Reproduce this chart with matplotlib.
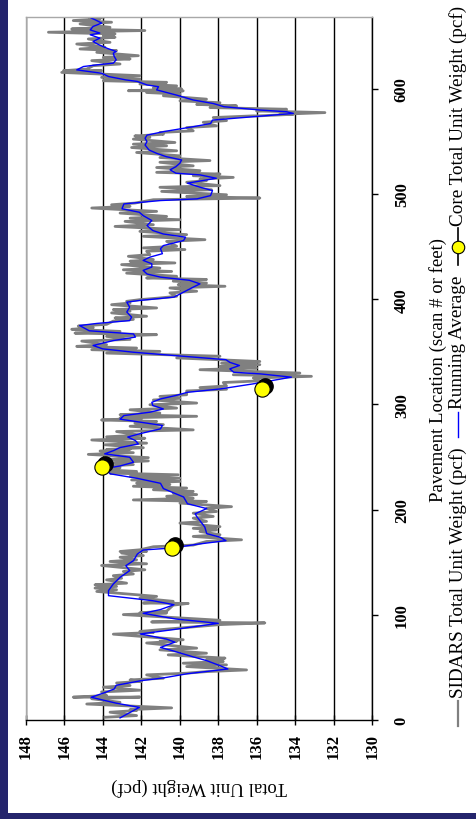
import matplotlib.pyplot as plt
from matplotlib.lines import Line2D
from matplotlib.patches import Rectangle
from matplotlib.transforms import offset_copy

plt.rcParams['font.family'] = ['Liberation Serif', 'DejaVu Serif']

# ---- data (location in ft, weight in pcf) ----
blue_loc = [2, 7, 12, 16, 21.6, 26, 29.5, 33, 37.4, 40,
            44, 48.5, 51.6, 56.4, 60, 62.7, 66, 69, 74, 77,
            81.8, 86, 91.9, 96, 101.4, 105, 109.6, 113.4, 118.2, 123,
            129.3, 135.6, 142, 146.7, 151.5, 157.8, 161.6, 163.5, 167.3, 170.5,
            173.7, 177.2, 183.5, 188.3, 193, 196, 201, 205.6, 212, 215,
            220, 225, 229.7, 234, 239, 241.5, 245, 249.8, 253, 256,
            259, 262.4, 265.6, 269, 272, 276.8, 280, 283, 286, 289.4,
            292.6, 295.7, 299, 302, 305.2, 308.5, 311.5, 314.7, 319.5, 325.9,
            329, 330.6, 333.8, 337, 340, 342.5, 345, 349.6, 352.8, 356,
            360.7, 364, 367, 370, 375, 377, 379.7, 383, 387.8, 392.5,
            397.2, 398.8, 402, 406.8, 411.5, 414.6, 418, 421, 424, 427.4,
            430.6, 433.7, 436.9, 440, 443.3, 448, 451, 455.8, 459, 462,
            465.3, 470, 474.8, 479.5, 482.7, 486, 490.6, 493.8, 495.4, 498.5,
            503.3, 506.5, 510.3, 513.5, 515, 518.2, 519.8, 523, 526, 529.2,
            532.4, 535.5, 538.7, 541.9, 546.6, 549.8, 553, 556, 559.3, 564,
            567, 570.3, 573.5, 576.6, 578.2, 579.8, 583, 586, 589.4, 594.2,
            597.3, 599, 602, 603.7, 607, 608.5, 611.7, 614.8, 616.4, 618,
            621.2, 622.8, 624.4, 627.6, 630.7, 633.9, 635.5, 638.7, 641.9, 645,
            648.2, 651.4, 653, 656, 659.3, 662.5, 665.7, 667.3]
blue_val = [143.1, 142.6, 142.1, 143.3, 144.6, 143.9, 143.4, 143.3, 142.0, 140.85,
            139.6, 137.5, 137.9, 138.6, 139.3, 139.8, 140.4, 141.0, 140.25, 140.7,
            142.05, 140.3, 138.0, 140.2, 141.9, 141.0, 140.3, 141.4, 143.7, 143.7,
            143.45, 143.1, 142.6, 142.8, 142.4, 142.2, 141.9, 140.4, 139.0, 137.6,
            137.9, 138.6, 138.7, 138.9, 139.1, 139.2, 138.6, 139.6, 139.8, 140.2,
            140.85, 141.0, 142.2, 143.6, 143.9, 143.1, 142.4, 142.6, 143.9, 143.45,
            143.1, 142.15, 142.3, 142.7, 142.1, 141.0, 140.9, 142.0, 143.1, 142.9,
            141.55, 140.85, 141.4, 141.45, 141.0, 140.2, 139.6, 137.9, 136.2, 134.2,
            135.8, 137.2, 137.4, 136.9, 137.4, 137.6, 139.3, 142.4, 144.0, 144.5,
            143.45, 142.3, 142.4, 144.7, 145.2, 144.3, 142.6, 142.5, 142.75, 142.6,
            142.75, 142.1, 140.3, 139.8, 139.3, 138.95, 139.5, 141.0, 141.7, 141.9,
            141.45, 141.45, 141.9, 141.55, 140.9, 141.0, 140.85, 139.8, 139.7, 140.85,
            141.4, 141.7, 141.45, 141.9, 142.1, 143.0, 142.9, 141.0, 139.1, 138.4,
            138.3, 138.95, 139.6, 138.6, 138.1, 138.95, 140.2, 140.5, 140.2, 140.0,
            139.9, 140.7, 141.2, 141.6, 141.8, 141.7, 141.8, 141.7, 140.85, 139.3,
            138.4, 138.3, 136.2, 134.1, 134.45, 135.8, 137.7, 138.25, 139.3, 140.2,
            140.85, 141.2, 141.1, 141.7, 142.2, 142.8, 143.7, 144.05, 144.7, 145.35,
            145.0, 144.3, 143.45, 143.3, 143.4, 143.45, 143.3, 143.8, 144.2, 144.5,
            144.15, 144.65, 144.15, 144.65, 144.5, 144.05, 144.4, 144.6]

# raw SIDARS scans: heavy and light extremes of the noise at each reading
grey_loc = [3.4, 8.2, 10.7, 16, 21, 22.5, 27.5, 32, 36, 38.9,
            43.7, 46.8, 51.6, 54.8, 58, 62.7, 67.5, 74, 75.5, 82.4,
            85, 91.5, 94, 101, 102.7, 110, 112, 116.7, 123, 126.2,
            129.3, 134, 138, 142, 147.7, 151.5, 155.5, 159.5, 161, 165.5,
            170.5, 175.3, 180, 183, 188, 192.7, 197.4, 202, 207, 210,
            213.5, 216.5, 219.7, 223, 226, 229, 232.3, 235.5, 239, 242,
            245.5, 248.6, 253.3, 256.5, 258, 262.4, 267, 270, 275, 280,
            283, 286, 287.9, 291, 295.7, 300.5, 305, 308.4, 313.6, 316.8,
            321.6, 325.9, 329, 333.8, 337, 340, 345, 349.6, 352.8, 356,
            361, 365.5, 368.6, 372.2, 375.3, 380, 383, 387.8, 390.9, 395.6,
            398.8, 402, 406.8, 411.5, 414.6, 418, 421, 425.6, 428.8, 433.7,
            436.9, 441.6, 446.4, 449.6, 455.8, 460.6, 465.3, 470, 474.8, 477.9,
            482.7, 487.5, 490.6, 495.4, 498.5, 503.3, 507.2, 512, 515, 518.2,
            521.4, 526, 531, 535.5, 540.3, 545, 548.2, 553, 556, 559.3,
            564, 569, 573.5, 575, 576.6, 579.8, 583, 586, 589.4, 594.2,
            597.3, 599, 602, 605.4, 608.5, 611.7, 616.4, 618, 622.8, 627.6,
            630.7, 635.5, 638.7, 643.4, 648.2, 651.4, 654.6, 657.7, 662.5, 665.7, 667.3]
grey_hi = [143.88, 143.62, 142.58, 144.83, 144.57, 145.53, 144.06, 143.97, 143.28, 142.58,
           141.72, 138.61, 139.64, 139.82, 138.61, 140.60, 141.03, 141.72, 141.03, 143.45,
           142.07, 137.91, 141.46, 142.93, 142.07, 140.34, 141.89, 142.07, 144.31, 144.40,
           144.40, 143.80, 143.45, 142.93, 144.06, 143.62, 143.10, 143.02, 143.10, 141.37,
           138.61, 139.30, 138.95, 139.30, 139.99, 139.30, 139.30, 138.61, 139.99, 142.41,
           140.68, 140.34, 141.37, 142.41, 142.24, 142.50, 142.58, 143.62, 144.31, 143.97,
           143.45, 143.80, 144.75, 144.14, 143.80, 143.88, 144.57, 143.80, 143.28, 142.58,
           142.33, 144.06, 143.10, 143.10, 142.58, 141.55, 141.37, 141.03, 139.64, 138.95,
           137.74, 136.18, 137.22, 138.95, 137.91, 137.83, 140.16, 143.80, 144.57, 145.35,
           145.09, 143.80, 145.44, 145.61, 145.27, 143.45, 143.36, 143.54, 143.45, 143.54,
           142.76, 141.03, 140.51, 140.51, 140.08, 140.34, 141.72, 142.76, 142.93, 143.02,
           142.58, 142.67, 141.72, 141.89, 140.68, 141.89, 142.07, 143.36, 142.84, 142.58,
           143.10, 144.57, 143.54, 141.37, 139.64, 140.94, 141.03, 139.64, 138.95, 139.30,
           141.20, 141.20, 141.03, 141.03, 142.24, 142.50, 142.41, 142.41, 142.33, 141.03,
           139.64, 138.78, 138.26, 136.01, 134.80, 136.01, 138.43, 139.12, 139.99, 140.85,
           141.72, 142.67, 141.37, 142.07, 143.97, 144.06, 146.13, 146.04, 144.49, 144.57,
           143.97, 144.31, 145.18, 145.35, 144.75, 143.97, 146.82, 145.61, 145.18, 145.53, 144.66]
grey_lo = [142.24, 142.24, 140.42, 143.10, 142.07, 143.80, 142.07, 142.58, 141.98, 140.85,
           139.64, 136.53, 137.57, 137.74, 137.65, 138.61, 139.12, 140.16, 139.82, 141.37,
           141.03, 135.58, 137.91, 140.68, 140.68, 139.56, 140.34, 141.20, 143.28, 143.28,
           142.76, 143.02, 142.41, 141.81, 141.72, 142.24, 141.89, 141.72, 142.07, 139.30,
           136.79, 137.91, 138.09, 137.91, 138.61, 138.26, 138.09, 137.31, 138.61, 139.30,
           139.12, 139.30, 139.64, 140.51, 139.99, 139.99, 140.08, 142.24, 143.10, 142.41,
           141.63, 141.63, 142.41, 142.58, 141.89, 141.72, 141.81, 142.07, 139.30, 140.85,
           141.20, 141.98, 139.12, 141.03, 140.16, 139.12, 139.99, 139.64, 137.57, 137.57,
           135.84, 133.16, 133.76, 136.01, 135.84, 135.84, 137.91, 141.03, 142.24, 143.80,
           142.58, 141.20, 143.10, 144.49, 143.80, 142.41, 141.72, 142.58, 141.20, 142.58,
           142.07, 140.16, 139.12, 137.65, 138.61, 138.61, 140.16, 140.42, 141.03, 140.25,
           141.37, 141.55, 139.73, 140.16, 138.69, 139.64, 139.99, 141.37, 139.99, 140.68,
           141.20, 142.58, 142.33, 135.84, 137.57, 138.35, 137.91, 138.61, 137.22, 137.91,
           138.95, 139.30, 138.43, 139.99, 140.16, 140.68, 140.25, 141.55, 140.85, 139.30,
           138.09, 137.57, 136.18, 134.11, 132.46, 134.45, 137.05, 137.91, 138.61, 139.99,
           139.82, 139.90, 140.16, 140.68, 142.07, 142.07, 144.06, 144.83, 143.10, 142.58,
           142.15, 143.28, 143.88, 143.62, 143.36, 143.36, 141.81, 143.62, 143.54, 144.14, 143.97]

core_loc = [163.5, 240.3, 314.7]
core_val = [140.42, 144.06, 135.75]

weight_ticks = list(range(130, 149, 2))
loc_ticks = list(range(0, 601, 100))

W, H = 477, 820
NAVY = '#24246c'
GREY = '#808080'


def fx(px):
    return px / W


def fy(py):
    return 1 - py / H


fig = plt.figure(figsize=(W / 100, H / 100), dpi=100, facecolor=NAVY)
fig.patches.append(Rectangle((fx(8), fy(814)), fx(477) - fx(8), fy(0) - fy(814),
                             transform=fig.transFigure, facecolor='white',
                             edgecolor='none', zorder=-10))

ax = fig.add_axes([fx(25.7), fy(721), fx(372.3) - fx(25.7), fy(18.3) - fy(721)])
ax.set_facecolor('white')

# the raw scan trace: a saw-tooth between the extremes at every reading
gx, gy = [], []
for l, a, b in zip(grey_loc, grey_hi, grey_lo):
    gx += [a, b]
    gy += [l - 0.8, l + 0.8]
ax.plot(gx, gy, color=GREY, lw=2.0, zorder=2)
ax.plot(blue_val, blue_loc, color='#0000ff', lw=1.0, zorder=3)

shadow = offset_copy(ax.transData, fig=fig, x=2.2, y=2.2, units='points')
ax.plot(core_val, core_loc, 'o', ms=11, color='black', transform=shadow, zorder=4)
ax.plot(core_val, core_loc, 'o', ms=11, mfc='#ffff00', mec='black', mew=0.8, zorder=5)

ax.set_xlim(148, 130)
ax.set_ylim(0, 668)
ax.set_xticks(weight_ticks)
ax.set_yticks(loc_ticks)
ax.grid(axis='x', color='black', lw=1.0, zorder=1)
ax.set_axisbelow(True)

ax.yaxis.tick_right()
ax.spines['left'].set_color('#a8a8a8')
ax.spines['top'].set_color('#a8a8a8')
ax.spines['right'].set_color('black')
ax.spines['bottom'].set_color('black')
for s in ax.spines.values():
    s.set_linewidth(1.0)
    s.set_zorder(6)

ax.tick_params(axis='x', direction='inout', length=7, width=1, pad=6)
ax.tick_params(axis='y', direction='out', length=4.5, width=1, pad=11)
ax.set_xticklabels([str(t) for t in weight_ticks], rotation=90, fontsize=12,
                   fontweight='bold')
ax.set_yticklabels([str(t) for t in loc_ticks], rotation=90, fontsize=12,
                   fontweight='bold', va='center')

ax.set_xlabel('Total Unit Weight (pcf)', fontsize=13.5, rotation=180, va='center')
ax.xaxis.set_label_coords(0.5, -0.094)
ax.yaxis.set_label_position('right')
ax.set_ylabel('Pavement Location (scan # or feet)', fontsize=13.5, rotation=90,
              va='center', ha='center')
ax.yaxis.set_label_coords(1.19, 0.5)

# legend, laid out along the right edge and read bottom to top
LX = fx(458)
LEG = 13.8
fig.lines.append(Line2D([LX, LX], [fy(727), fy(702)], color=GREY, lw=1.6,
                        transform=fig.transFigure))
fig.text(LX, fy(698), 'SIDARS Total Unit Weight (pcf)', rotation=90,
         ha='center', va='bottom', fontsize=LEG)
fig.lines.append(Line2D([LX, LX], [fy(438), fy(413)], color='#0000ff', lw=1.0,
                        transform=fig.transFigure))
fig.text(LX, fy(409), 'Running Average', rotation=90, ha='center', va='bottom',
         fontsize=LEG)
fig.lines.append(Line2D([LX, LX], [fy(266), fy(229)], color='black', lw=1.2,
                        transform=fig.transFigure))
fig.lines.append(Line2D([LX], [fy(247.5)], marker='o', ms=9, mfc='#ffff00',
                        mec='black', mew=0.8, transform=fig.transFigure))
fig.text(LX, fy(226), 'Core Total Unit Weight (pcf)', rotation=90, ha='center',
         va='bottom', fontsize=LEG)

fig.savefig('out.png', dpi=100, facecolor=NAVY)
